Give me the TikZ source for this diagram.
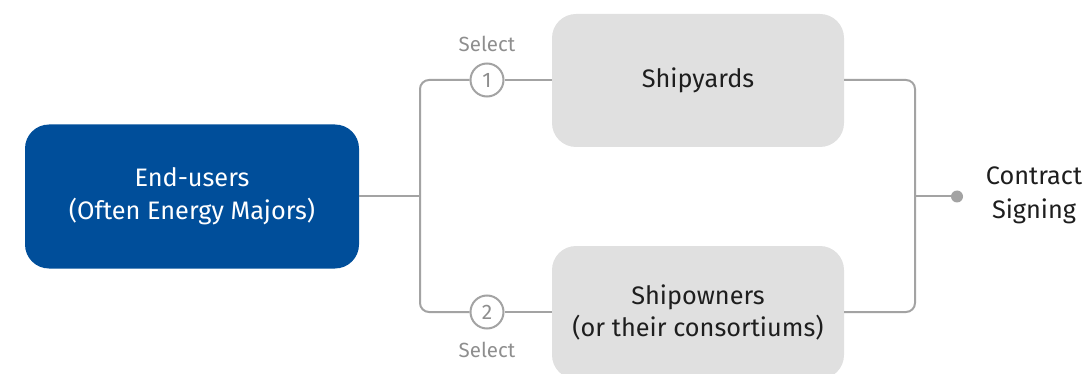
\documentclass[tikz,border=0pt]{standalone}
\usepackage{fontspec}
\setmainfont{Fira Sans}
\definecolor{navy}{HTML}{004E9A}
\definecolor{boxgray}{HTML}{E0E0E0}
\definecolor{linegray}{HTML}{A3A3A3}
\definecolor{labelgray}{HTML}{8E8E8E}
\definecolor{txtdark}{HTML}{1E1E1E}
\begin{document}
\begin{tikzpicture}[x=1pt,y=-1pt,
  bluebox/.style={rectangle, rounded corners=24pt, fill=navy, text=white, align=center,
    minimum width=334pt, minimum height=144pt, font=\fontsize{25.3}{33}\selectfont},
  graybox/.style={rectangle, rounded corners=24pt, fill=boxgray, text=txtdark, align=center,
    minimum width=292pt, minimum height=133pt, font=\fontsize{25.3}{32}\selectfont},
  numcirc/.style={circle, draw=linegray, line width=2pt, fill=white, text=labelgray,
    minimum size=33pt, inner sep=0pt, font=\fontsize{21}{22}\selectfont},
  sel/.style={text=labelgray, font=\fontsize{20.5}{22}\selectfont},
  conn/.style={draw=linegray, line width=2pt, rounded corners=9pt},
  endtxt/.style={text=txtdark, align=center, font=\fontsize{25.3}{34}\selectfont},
]
\useasboundingbox (0,0) rectangle (1084,374);
\clip (0,0) rectangle (1084,374);
\node[bluebox] (end) at (192,196.5) {End-users\\(Often Energy Majors)};
\node[graybox] (yard) at (698,80.5) {Shipyards};
\node[graybox] (owner) at (698,312.5) {Shipowners\\(or their consortiums)};
\node[numcirc] (c1) at (487,80) {1};
\node[numcirc] (c2) at (487,312) {2};
\node[sel] (s1) at (487,44) {Select};
\node[sel] (s2) at (487,350) {Select};
\coordinate (split) at (420,196.5);
\coordinate (lt) at (420,80);
\coordinate (lb) at (420,312);
\coordinate (rt) at (915,80);
\coordinate (rb) at (915,312);
\coordinate (join) at (915,196.5);
\node[circle, fill=linegray, minimum size=12pt, inner sep=0pt] (dot) at (957,196.5) {};
\node[endtxt] (sign) at (1034,195) {Contract\\Signing};
\draw[conn] (end.east) -- (split);
\draw[conn] (c1.west) -- (lt) -- (lb) -- (c2.west);
\draw[conn] (c1.east) -- (c1.east -| yard.west);
\draw[conn] (c2.east) -- (c2.east -| owner.west);
\draw[conn] (yard.east |- rt) -- (rt) -- (rb) -- (owner.east |- rb);
\draw[conn] (join) -- (dot.center);
\end{tikzpicture}
\end{document}
